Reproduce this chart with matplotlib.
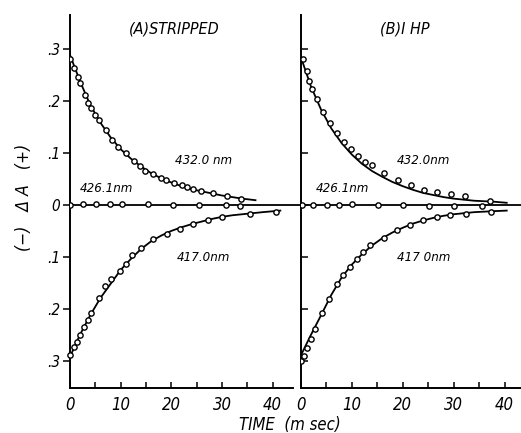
import matplotlib
matplotlib.use("Agg")
import matplotlib.pyplot as plt
from matplotlib.ticker import FixedLocator, MultipleLocator

FONT = ['Liberation Sans Narrow', 'DejaVu Sans', 'Liberation Sans']
plt.rcParams['font.family'] = FONT

# ---------------- data ----------------
# Panel A: stripped
a432_t = [0, 0.8, 1.5, 2.0, 2.9, 3.5, 4.1, 4.9, 5.7, 7.1, 8.3, 9.5, 11.1, 12.7, 13.9, 14.8,
          16.3, 17.9, 19.0, 20.5, 22.0, 23.1, 24.3, 25.8, 28.3, 31.0, 33.7]
a432_v = [0.280, 0.263, 0.245, 0.234, 0.212, 0.196, 0.186, 0.172, 0.163, 0.144, 0.124, 0.112,
          0.099, 0.085, 0.074, 0.065, 0.060, 0.052, 0.047, 0.043, 0.038, 0.034, 0.031, 0.027,
          0.0225, 0.017, 0.0115]
a432_fit_t = [0, 2, 4, 6, 8, 10, 12, 14, 16, 18, 20, 22, 24, 26, 28, 30, 32, 34, 36.6]
a432_fit_v = [0.288, 0.237, 0.192, 0.158, 0.130, 0.107, 0.089, 0.074, 0.061, 0.051, 0.043,
              0.036, 0.030, 0.026, 0.022, 0.018, 0.015, 0.012, 0.009]

a426_t = [0, 2.5, 5.1, 7.8, 10.3, 15.3, 20.3, 25.5, 30.8, 33.5]
a426_v = [0, 0.001, 0.001, 0.001, 0.0015, 0.002, 0, 0, -0.001, -0.002]

a417_t = [0, 0.8, 1.3, 2.0, 2.7, 3.5, 4.2, 5.7, 7.0, 8.1, 9.8, 11.1, 12.3, 14.0, 16.3, 19.2,
          21.8, 24.3, 27.2, 29.9, 35.5, 40.7]
a417_v = [-0.288, -0.274, -0.263, -0.250, -0.235, -0.221, -0.208, -0.179, -0.155, -0.142,
          -0.128, -0.113, -0.096, -0.082, -0.066, -0.056, -0.046, -0.036, -0.029, -0.0225,
          -0.017, -0.013]
a417_fit_t = [0, 2, 4, 6, 8, 10, 12, 14, 16, 18, 20, 22, 24, 26, 28, 30, 32, 34, 36, 38, 41.5]
a417_fit_v = [-0.292, -0.249, -0.212, -0.179, -0.152, -0.125, -0.104, -0.085, -0.070, -0.059,
              -0.050, -0.043, -0.037, -0.032, -0.027, -0.023, -0.020, -0.018, -0.016, -0.014,
              -0.011]

# Panel B: IHP
b432_t = [0.4, 1.2, 1.7, 2.3, 3.2, 4.4, 5.7, 7.1, 8.4, 9.8, 11.2, 12.7, 13.9, 16.4, 19.1,
          21.6, 24.2, 26.7, 29.5, 32.2, 37.2]
b432_v = [0.280, 0.258, 0.239, 0.222, 0.204, 0.179, 0.158, 0.139, 0.121, 0.108, 0.094, 0.083,
          0.076, 0.061, 0.048, 0.039, 0.029, 0.0255, 0.021, 0.017, 0.008]
b432_fit_t = [0, 2, 4, 6, 8, 10, 12, 14, 16, 18, 20, 22, 24, 26, 28, 30, 32, 34, 36, 38, 40.4]
b432_fit_v = [0.285, 0.228, 0.183, 0.147, 0.119, 0.097, 0.079, 0.065, 0.054, 0.044, 0.036,
              0.029, 0.023, 0.019, 0.015, 0.012, 0.010, 0.008, 0.007, 0.006, 0.004]

b426_t = [0.2, 2.5, 5.2, 7.5, 10.0, 15.2, 20.1, 25.2, 30.1, 35.5]
b426_v = [0, 0, 0, 0, 0.001, 0, -0.001, -0.003, -0.003, -0.003]

b417_t = [0.0, 0.65, 1.2, 2.0, 2.8, 4.1, 5.5, 7.1, 8.2, 9.7, 11.0, 12.3, 13.6, 16.4, 18.9,
          21.4, 24.0, 26.7, 29.3, 32.4, 37.4]
b417_v = [-0.300, -0.290, -0.276, -0.258, -0.239, -0.207, -0.181, -0.153, -0.135, -0.119,
          -0.104, -0.091, -0.078, -0.064, -0.049, -0.038, -0.029, -0.023, -0.019, -0.017,
          -0.0144]
b417_fit_t = [0, 2, 4, 6, 8, 10, 12, 14, 16, 18, 20, 22, 24, 26, 28, 30, 32, 34, 36, 38, 40.4]
b417_fit_v = [-0.290, -0.250, -0.212, -0.173, -0.140, -0.115, -0.095, -0.078, -0.064, -0.053,
              -0.044, -0.036, -0.030, -0.025, -0.021, -0.018, -0.016, -0.014, -0.013, -0.012,
              -0.011]

yticks = [-0.3, -0.2, -0.1, 0, 0.1, 0.2, 0.3]
ytick_labels = ['.3', '.2', '.1', '0', '.1', '.2', '.3']
xticks = [0, 10, 20, 30, 40]
xtick_labels = ['0', '10', '20', '30', '40']
titles = ['(A)STRIPPED', '(B)I HP']
# ---------------------------------------------------------------

W, H = 521, 433
fig = plt.figure(figsize=(W / 100, H / 100), dpi=100)
fig.patch.set_facecolor('white')

yb, yt = 388, 15
axA = fig.add_axes([70 / W, 1 - yb / H, (293 - 70) / W, (yb - yt) / H])
axB = fig.add_axes([300.7 / W, 1 - yb / H, (521 - 300.7) / W, (yb - yt) / H])

mk = dict(marker='o', ms=3.8, mfc='white', mec='black', mew=1.0, ls='none', zorder=4)
ln = dict(color='black', lw=1.3, zorder=3)
tk = dict(style='italic', family=FONT, stretch='condensed')

for ax, xmax in ((axA, 44.0), (axB, 43.2)):
    ax.set_xlim(0, xmax)
    ax.set_ylim(-0.352, 0.365)
    ax.spines['top'].set_visible(False)
    ax.spines['right'].set_visible(False)
    ax.spines['left'].set_linewidth(1.4)
    ax.spines['bottom'].set_linewidth(1.4)
    ax.xaxis.set_major_locator(FixedLocator(xticks))
    ax.set_xticklabels(xtick_labels, fontsize=12, **tk)
    ax.xaxis.set_minor_locator(MultipleLocator(5))
    ax.tick_params(axis='x', which='both', direction='in', length=4, width=1.1, pad=6)
    ax.yaxis.set_major_locator(FixedLocator(yticks))

axA.set_yticklabels(ytick_labels, fontsize=11, **tk)
axA.tick_params(axis='y', direction='out', length=5, width=1.1, pad=2)
axB.set_yticklabels([])
axB.tick_params(axis='y', direction='in', length=5, width=1.1)

# zero line across both panels
axA.plot([0, 46.5], [0, 0], color='black', lw=1.3, clip_on=False, zorder=2)
axB.axhline(0, color='black', lw=1.3, zorder=2)

# Panel A
axA.plot(a432_fit_t, a432_fit_v, **ln)
axA.plot(a432_t, a432_v, **mk)
axA.plot(a426_t, a426_v, **mk)
axA.plot(a417_fit_t, a417_fit_v, clip_on=False, **ln)
axA.plot(a417_t, a417_v, clip_on=False, **mk)

# Panel B
axB.plot(b432_fit_t, b432_fit_v, **ln)
axB.plot(b432_t, b432_v, **mk)
axB.plot(b426_t, b426_v, **mk)
axB.plot(b417_fit_t, b417_fit_v, **ln)
axB.plot(b417_t, b417_v, **mk)

txt = dict(color='black', **tk)
axA.text(20.5, 0.339, titles[0], fontsize=11.5, ha='center', va='center', **txt)
axB.text(20.5, 0.339, titles[1], fontsize=11.5, ha='center', va='center', **txt)

axA.text(26.3, 0.086, '432.0 nm', fontsize=9.5, ha='center', va='center', **txt)
axA.text(7.1, 0.032, '426.1nm', fontsize=9.5, ha='center', va='center', **txt)
axA.text(26.3, -0.101, '417.0nm', fontsize=9.5, ha='center', va='center', **txt)
axB.text(24.1, 0.086, '432.0nm', fontsize=9.5, ha='center', va='center', **txt)
axB.text(8.2, 0.032, '426.1nm', fontsize=9.5, ha='center', va='center', **txt)
axB.text(24.2, -0.101, '417 0nm', fontsize=9.5, ha='center', va='center', **txt)

fig.text(24 / W, 1 - 197 / H, '(−)   Δ A   (+)', rotation=90, fontsize=12.5,
         ha='center', va='center', **txt)
fig.text(290 / W, 1 - 425 / H, 'TIME  (m sec)', fontsize=12, ha='center', va='center', **txt)

fig.savefig('out.png', dpi=100, facecolor='white')
